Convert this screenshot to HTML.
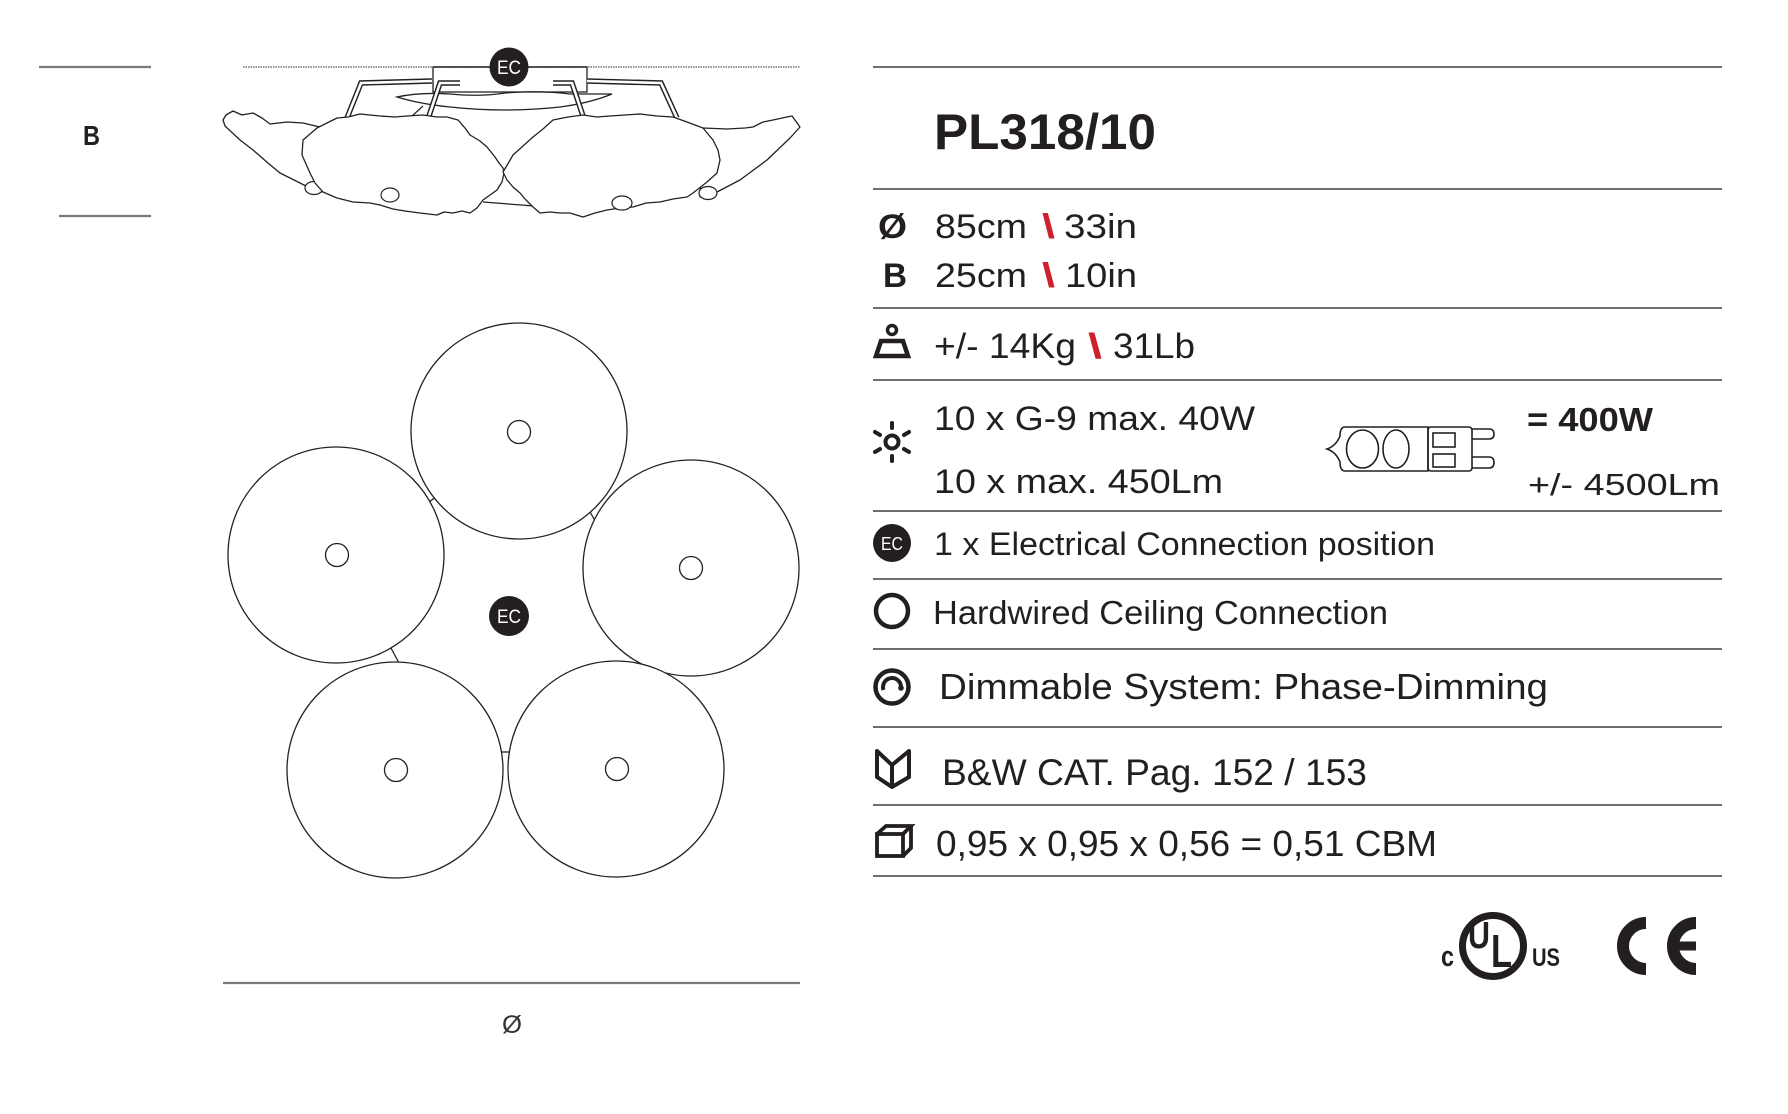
<!DOCTYPE html>
<html>
<head>
<meta charset="utf-8">
<style>
  html,body{margin:0;padding:0;background:#fff;}
  svg{display:block;}
</style>
</head>
<body>
<svg xmlns="http://www.w3.org/2000/svg" width="1788" height="1114" viewBox="0 0 1788 1114" font-family="'Liberation Sans', sans-serif">
  <rect x="0" y="0" width="1788" height="1114" fill="#ffffff"/>

  <!-- ================= LEFT: dimension B ================= -->
  <line x1="39" y1="67" x2="151" y2="67" stroke="#7a7a7a" stroke-width="2.2"/>
  <line x1="59" y1="216" x2="151" y2="216" stroke="#7a7a7a" stroke-width="2.2"/>
  <text x="83" y="145" font-size="28" font-weight="bold" fill="#231f20" textLength="17" lengthAdjust="spacingAndGlyphs">B</text>

  <!-- ================= SIDE VIEW ================= -->
  <line x1="243" y1="67" x2="800" y2="67" stroke="#555" stroke-width="1.2" stroke-dasharray="1.5,1"/>
  <path d="M397 97 Q420 92 450 94 Q480 97 505 93 Q540 90 570 94 L612 94 Q590 103 560 107 Q505 113 450 107 Q420 104 397 97 Z" fill="#fff" stroke="#222" stroke-width="1.3"/>
  <rect x="433" y="67" width="154" height="25" fill="none" stroke="#222" stroke-width="1.3"/>
  <line x1="433" y1="67" x2="587" y2="67" stroke="#333" stroke-width="1.6"/>
  <g fill="none" stroke-linejoin="miter">
    <path d="M432 81 L361 83 L347 118" stroke="#222" stroke-width="5.5"/>
    <path d="M432 81 L361 83 L347 118" stroke="#fff" stroke-width="2.6"/>
    <path d="M460 83 L440 83 L429 116" stroke="#222" stroke-width="5.5"/>
    <path d="M460 83 L440 83 L429 116" stroke="#fff" stroke-width="2.6"/>
    <path d="M553 83 L572 83 L583 116" stroke="#222" stroke-width="5.5"/>
    <path d="M553 83 L572 83 L583 116" stroke="#fff" stroke-width="2.6"/>
    <path d="M587 81 L661 83 L677 118" stroke="#222" stroke-width="5.5"/>
    <path d="M587 81 L661 83 L677 118" stroke="#fff" stroke-width="2.6"/>
  </g>
  <line x1="412" y1="116" x2="423" y2="106" stroke="#222" stroke-width="1.2"/>
  <path d="M320 127 L303 123 L287 122 L270 124 L262 118 L253 113 L242 115 L233 111 L226 115 L223 120 L225 126 L240 140 L253 150 L268 163 L280 173 L300 183 L308 187 L323 192 Z" fill="#fff" stroke="#222" stroke-width="1.3" stroke-linejoin="round"/>
  <ellipse cx="314" cy="188" rx="9" ry="6.5" fill="#fff" stroke="#222" stroke-width="1.2"/>
  <path d="M703 128 L727 129 L745 128 L753 127 L763 122 L773 120 L787 117 L792 116 L800 127 L790 138 L767 160 L740 180 L717 192 L700 197 Z" fill="#fff" stroke="#222" stroke-width="1.3" stroke-linejoin="round"/>
  <ellipse cx="708" cy="193" rx="9" ry="6.5" fill="#fff" stroke="#222" stroke-width="1.2"/>
  <line x1="483" y1="202" x2="534" y2="206" stroke="#222" stroke-width="1.2"/>
  <path d="M317 128 L337 118 L348 117 L360 114 L380 116 L395 117 L407 116 L423 115 L437 117 L447 117 L458 120 L465 128 L470 135 L480 141 L487 147 L495 157 L499 163 L503 168 L504 173 L502 182 L497 190 L490 195 L483 200 L477 208 L470 213 L462 211 L453 213 L444 212 L437 215 L420 213 L405 211 L393 209 L380 205 L370 203 L353 202 L337 198 L323 192 L315 183 L310 173 L302 155 L303 140 Z" fill="#fff" stroke="#222" stroke-width="1.3" stroke-linejoin="round"/>
  <ellipse cx="390" cy="195" rx="9" ry="7" fill="#fff" stroke="#222" stroke-width="1.2"/>
  <path d="M503 172 L509 162 L513 155 L523 146 L533 137 L543 129 L553 120 L568 117 L583 115 L597 117 L610 116 L625 115 L640 114 L657 116 L673 117 L687 122 L703 128 L713 140 L718 150 L720 160 L717 173 L707 182 L693 193 L687 197 L673 199 L660 202 L646 203 L633 207 L620 208 L607 210 L595 213 L583 217 L570 213 L560 213 L550 212 L540 213 L533 207 L526 200 L520 193 L513 187 L507 180 Z" fill="#fff" stroke="#222" stroke-width="1.3" stroke-linejoin="round"/>
  <ellipse cx="622" cy="203" rx="10" ry="7" fill="#fff" stroke="#222" stroke-width="1.2"/>
  <circle cx="509" cy="67" r="19.5" fill="#231f20"/>
  <text x="509" y="74" font-size="19" fill="#fff" text-anchor="middle" textLength="24" lengthAdjust="spacingAndGlyphs">EC</text>

  <!-- ================= TOP VIEW ================= -->
  <g stroke="#222" stroke-width="1.3">
    <line x1="427" y1="504" x2="439" y2="494"/>
    <line x1="391" y1="648" x2="399" y2="663"/>
    <line x1="501" y1="752" x2="510" y2="752"/>
    <line x1="588" y1="508" x2="595" y2="521"/>
  </g>
  <g fill="#fff" stroke="#222" stroke-width="1.3">
    <ellipse cx="519" cy="431" rx="108" ry="108"/>
    <ellipse cx="336" cy="555" rx="108" ry="108"/>
    <ellipse cx="691" cy="568" rx="108" ry="108"/>
    <ellipse cx="395" cy="770" rx="108" ry="108"/>
    <ellipse cx="616" cy="769" rx="108" ry="108"/>
    <circle cx="519" cy="432" r="11.5"/>
    <circle cx="337" cy="555" r="11.5"/>
    <circle cx="691" cy="568" r="11.5"/>
    <circle cx="396" cy="770" r="11.5"/>
    <circle cx="617" cy="769" r="11.5"/>
  </g>
  <circle cx="509" cy="616" r="20" fill="#231f20"/>
  <text x="509" y="623" font-size="19" fill="#fff" text-anchor="middle" textLength="24" lengthAdjust="spacingAndGlyphs">EC</text>

  <line x1="223" y1="983" x2="800" y2="983" stroke="#7a7a7a" stroke-width="2.2"/>
  <text x="502" y="1033" font-size="25" fill="#333" textLength="20" lengthAdjust="spacingAndGlyphs">Ø</text>

  <!-- ================= RIGHT PANEL ================= -->
  <g stroke="#5a5a5a" stroke-width="1.8">
    <line x1="873" y1="67" x2="1722" y2="67"/>
    <line x1="873" y1="189" x2="1722" y2="189"/>
    <line x1="873" y1="308" x2="1722" y2="308"/>
    <line x1="873" y1="380" x2="1722" y2="380"/>
    <line x1="873" y1="511" x2="1722" y2="511"/>
    <line x1="873" y1="579" x2="1722" y2="579"/>
    <line x1="873" y1="649" x2="1722" y2="649"/>
    <line x1="873" y1="727" x2="1722" y2="727"/>
    <line x1="873" y1="805" x2="1722" y2="805"/>
    <line x1="873" y1="876" x2="1722" y2="876"/>
  </g>

  <g fill="#231f20">
    <text x="934" y="149" font-size="50" font-weight="bold" textLength="222" lengthAdjust="spacingAndGlyphs">PL318/10</text>

    <text x="878" y="238" font-size="34" font-weight="bold" textLength="29" lengthAdjust="spacingAndGlyphs">Ø</text>
    <text x="935" y="238" font-size="34" textLength="92" lengthAdjust="spacingAndGlyphs">85cm</text>
    <text x="1042" y="238" font-size="34" font-weight="bold" fill="#d0202e" textLength="13" lengthAdjust="spacingAndGlyphs">\</text>
    <text x="1064" y="238" font-size="34" textLength="73" lengthAdjust="spacingAndGlyphs">33in</text>

    <text x="883" y="287" font-size="34" font-weight="bold" textLength="24" lengthAdjust="spacingAndGlyphs">B</text>
    <text x="935" y="287" font-size="34" textLength="92" lengthAdjust="spacingAndGlyphs">25cm</text>
    <text x="1042" y="287" font-size="34" font-weight="bold" fill="#d0202e" textLength="13" lengthAdjust="spacingAndGlyphs">\</text>
    <text x="1065" y="287" font-size="34" textLength="72" lengthAdjust="spacingAndGlyphs">10in</text>

    <text x="934" y="358" font-size="35" textLength="142" lengthAdjust="spacingAndGlyphs">+/- 14Kg</text>
    <text x="1088" y="358" font-size="35" font-weight="bold" fill="#d0202e" textLength="14" lengthAdjust="spacingAndGlyphs">\</text>
    <text x="1113" y="358" font-size="35" textLength="82" lengthAdjust="spacingAndGlyphs">31Lb</text>

    <text x="934" y="430" font-size="34.5" textLength="321" lengthAdjust="spacingAndGlyphs">10 x G-9 max. 40W</text>
    <text x="934" y="493" font-size="34.5" textLength="289" lengthAdjust="spacingAndGlyphs">10 x max. 450Lm</text>
    <text x="1527" y="431" font-size="33" font-weight="bold" textLength="126" lengthAdjust="spacingAndGlyphs">= 400W</text>
    <text x="1528" y="495" font-size="31" textLength="192" lengthAdjust="spacingAndGlyphs">+/- 4500Lm</text>

    <text x="934" y="555" font-size="32" textLength="501" lengthAdjust="spacingAndGlyphs">1 x Electrical Connection position</text>
    <text x="933" y="624" font-size="33" textLength="455" lengthAdjust="spacingAndGlyphs">Hardwired Ceiling Connection</text>
    <text x="939" y="699" font-size="36" textLength="609" lengthAdjust="spacingAndGlyphs">Dimmable System: Phase-Dimming</text>
    <text x="942" y="785" font-size="37" textLength="425" lengthAdjust="spacingAndGlyphs">B&amp;W CAT. Pag. 152 / 153</text>
    <text x="936" y="856" font-size="36" textLength="501" lengthAdjust="spacingAndGlyphs">0,95 x 0,95 x 0,56 = 0,51 CBM</text>
  </g>

  <!-- weight icon -->
  <g fill="none" stroke="#231f20">
    <circle cx="892" cy="330" r="4.5" stroke-width="3.5"/>
    <path d="M881 341 L903 341 L908 356 L876 356 Z" stroke-width="4.5" stroke-linejoin="miter"/>
  </g>

  <!-- sun icon -->
  <g stroke="#231f20" stroke-linecap="round" fill="none">
    <circle cx="892" cy="442" r="6.5" stroke-width="4"/>
    <line x1="892" y1="428" x2="892" y2="423" stroke-width="4"/>
    <line x1="892" y1="456" x2="892" y2="461" stroke-width="4"/>
    <line x1="880" y1="435" x2="875" y2="432" stroke-width="4"/>
    <line x1="904" y1="435" x2="909" y2="432" stroke-width="4"/>
    <line x1="880" y1="449" x2="875" y2="452" stroke-width="4"/>
    <line x1="904" y1="449" x2="909" y2="452" stroke-width="4"/>
  </g>

  <!-- G9 bulb icon -->
  <g fill="none" stroke="#231f20" stroke-width="1.6">
    <path d="M1345 427 L1428 427 L1428 471 L1345 471 Q1340 471 1340 462 Q1336 452 1327 449 Q1336 446 1340 436 Q1340 427 1345 427 Z" fill="#fff"/>
    <ellipse cx="1362.5" cy="449" rx="16" ry="19"/>
    <ellipse cx="1396" cy="449" rx="13" ry="19"/>
    <rect x="1428" y="427" width="44" height="44" rx="3"/>
    <rect x="1433" y="433" width="22" height="14"/>
    <rect x="1433" y="454" width="22" height="13"/>
    <path d="M1472 429 L1489 429 Q1494 429 1494 434 Q1494 439 1489 439 L1472 439"/>
    <path d="M1472 457 L1489 457 Q1494 457 1494 462.5 Q1494 468 1489 468 L1472 468"/>
  </g>

  <!-- EC icon -->
  <circle cx="892" cy="543" r="19" fill="#231f20"/>
  <text x="892" y="550" font-size="18" fill="#fff" text-anchor="middle" textLength="22" lengthAdjust="spacingAndGlyphs">EC</text>

  <!-- hardwired ring -->
  <circle cx="892" cy="611" r="16" fill="none" stroke="#231f20" stroke-width="4.5"/>

  <!-- dimmable icon -->
  <circle cx="892" cy="687" r="16.5" fill="none" stroke="#231f20" stroke-width="4.5"/>
  <path d="M883.5 690 A9 9 0 1 1 901 687" fill="none" stroke="#231f20" stroke-width="4"/>
  <circle cx="901" cy="688" r="2.8" fill="#231f20"/>

  <!-- book icon -->
  <g fill="none" stroke="#231f20" stroke-width="4" stroke-linejoin="round">
    <path d="M877 751 L892 765 L909 751 L909 777 L892 787 L877 777 Z"/>
    <line x1="892" y1="765" x2="892" y2="787"/>
  </g>

  <!-- box icon -->
  <g fill="none" stroke="#231f20" stroke-width="3.8" stroke-linejoin="miter">
    <rect x="877" y="834" width="26" height="22"/>
    <path d="M877 834 L886 826 L911 826 L903 834"/>
    <path d="M911 826 L911 848 L903 856"/>
  </g>

  <!-- UL logo -->
  <g fill="#231f20">
    <circle cx="1493" cy="946" r="30.5" fill="none" stroke="#231f20" stroke-width="7"/>
    <text x="1468" y="948" font-size="38" font-weight="bold" textLength="22" lengthAdjust="spacingAndGlyphs">U</text>
    <text x="1491" y="967" font-size="46" font-weight="bold" textLength="21" lengthAdjust="spacingAndGlyphs">L</text>
    <text x="1441" y="966" font-size="29" font-weight="bold" textLength="13" lengthAdjust="spacingAndGlyphs">c</text>
    <text x="1532" y="966" font-size="25" font-weight="bold" textLength="28" lengthAdjust="spacingAndGlyphs">US</text>
  </g>

  <!-- CE logo -->
  <g fill="none" stroke="#231f20">
    <path d="M1646 923 A23 23 0 0 0 1646 969" stroke-width="12"/>
    <path d="M1696 923 A23 23 0 0 0 1696 969" stroke-width="12"/>
    <line x1="1670" y1="946" x2="1696" y2="946" stroke-width="9"/>
  </g>
</svg>
</body>
</html>
